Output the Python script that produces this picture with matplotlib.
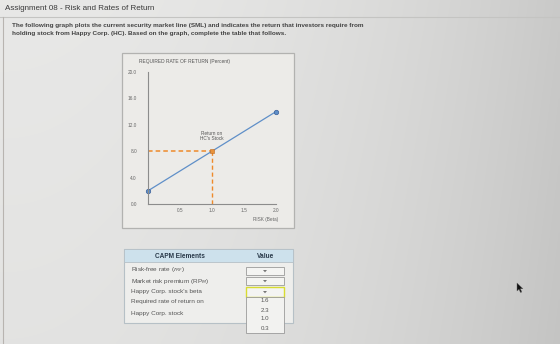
import numpy as np
import matplotlib
matplotlib.use("Agg")
import matplotlib.pyplot as plt
from matplotlib.patches import Rectangle, Polygon

# ---- data ----
sml_beta = [0.0, 2.0]
sml_return = [2.0, 14.0]
hc_beta = [1.0]
hc_return = [8.0]
y_ticks = [0.0, 4.0, 8.0, 12.0, 16.0, 20.0]
x_ticks = [0.5, 1.0, 1.5, 2.0]
table_rows = ["Risk-free rate ($r_{RF}$)", "Market risk premium (RP$_{M}$)",
              "Happy Corp. stock's beta", "Required rate of return on", "Happy Corp. stock"]
dropdown_options = ["1.6", "2.3", "1.0", "0.3"]

W, H = 560, 344
plt.rcParams['font.family'] = ['Liberation Sans', 'DejaVu Sans']
fig = plt.figure(figsize=(W / 100, H / 100), dpi=100)

def fx(x):
    return x / W

def fy(y):
    return 1 - y / H

# background with vignette
bg = fig.add_axes([0, 0, 1, 1], zorder=-10)
gx = np.linspace(0, 1, 200)
gy = np.linspace(0, 1, 120)
X, Y = np.meshgrid(gx, gy)
val = 0.91 - 0.12 * X ** 2.2 - 0.02 * Y
img = np.dstack([val, val, val * 0.995])
bg.imshow(img, extent=[0, W, H, 0], aspect='auto', interpolation='bilinear')
bg.set_xlim(0, W)
bg.set_ylim(H, 0)
bg.axis('off')
bg.plot([0, W], [17, 17], color='#c4c4c2', lw=0.8)
bg.plot([2.5, 2.5], [17, H], color='#b8b4b0', lw=0.8)

# page texts
fig.text(fx(5), fy(8), "Assignment 08 - Risk and Rates of Return", fontsize=5.8,
         color='#3a3a3a', va='center', ha='left')
fig.text(fx(12), fy(25), "The following graph plots the current security market line (SML) and indicates the return that investors require from",
         fontsize=4.6, color='#444444', va='center', ha='left', fontweight='bold')
fig.text(fx(12), fy(34), "holding stock from Happy Corp. (HC). Based on the graph, complete the table that follows.",
         fontsize=4.6, color='#444444', va='center', ha='left', fontweight='bold')

# chart box
bg.add_patch(Rectangle((122, 53), 172, 175, facecolor='#ecebe8', edgecolor='#b2b2b0', lw=0.9))

# chart axes
ax = fig.add_axes([fx(148), fy(204), (276 - 148) / W, (204 - 72) / H])
ax.patch.set_alpha(0)
ax.set_xlim(0, 2.0)
ax.set_ylim(0, 20)
for s in ['top', 'right']:
    ax.spines[s].set_visible(False)
for s in ['left', 'bottom']:
    ax.spines[s].set_color('#8c8c8c')
    ax.spines[s].set_linewidth(0.8)
ax.set_yticks(y_ticks)
ax.set_yticklabels([f"{v:.1f}" for v in y_ticks])
ax.set_xticks(x_ticks)
ax.set_xticklabels([f"{v:.1f}" for v in x_ticks])
ax.tick_params(length=0, labelsize=3.4, labelcolor='#666666')
ax.tick_params(axis='x', pad=3)
ax.tick_params(axis='y', pad=8)

ax.plot(hc_beta * 2, [0, hc_return[0]], ls=(0, (3, 2)), color='#ee8a2a', lw=1.0, clip_on=False)
ax.plot([0, hc_beta[0]], hc_return * 2, ls=(0, (3, 2)), color='#ee8a2a', lw=1.1, clip_on=False)
ax.plot(sml_beta, sml_return, color='#5f8fc8', lw=0.9, clip_on=False)
ax.plot(sml_beta, sml_return, 'o', color='#5f8fc8', mec='#3a5f99', mew=0.5, ms=3.2, clip_on=False)
ax.plot(hc_beta, hc_return, 's', color='#e8923a', mec='#c06a20', mew=0.4, ms=3.0, clip_on=False)
ax.text(hc_beta[0], hc_return[0] + 1.6, "Return on\nHC's Stock", fontsize=3.4, color='#555555',
        ha='center', va='bottom', linespacing=1.0)

fig.text(fx(139), fy(61), "REQUIRED RATE OF RETURN (Percent)", fontsize=3.5, color='#555555',
         ha='left', va='center')
fig.text(fx(278), fy(219), "RISK (Beta)", fontsize=3.4, color='#666666', ha='right', va='center')

# table
bg.add_patch(Rectangle((124, 249), 169, 74, facecolor='#eeeeec', edgecolor='#b6c0c6', lw=0.8))
bg.add_patch(Rectangle((124, 249), 169, 13, facecolor='#cde1ec', edgecolor='#b6c0c6', lw=0.6))
fig.text(fx(180), fy(256), "CAPM Elements", fontsize=4.7, color='#2a3a4a', fontweight='bold',
         ha='center', va='center')
fig.text(fx(266), fy(256), "Value", fontsize=4.7, color='#2a3a4a', fontweight='bold',
         ha='center', va='center')
row_y = [270, 281, 292, 302, 313]
for lbl, yy in zip(table_rows, row_y):
    fig.text(fx(131), fy(yy), lbl, fontsize=4.6, color='#555555', ha='left', va='center')

# dropdowns
for i, (y0, y1) in enumerate([(267, 275), (277, 285), (287, 297)]):
    ec = '#d8dc30' if i == 2 else '#9a9a9a'
    lw = 1.0 if i == 2 else 0.6
    bg.add_patch(Rectangle((246, y0), 38, y1 - y0, facecolor='#f4f4f2', edgecolor=ec, lw=lw))
    cx, cy = 265, (y0 + y1) / 2
    bg.add_patch(Polygon([[cx - 2, cy - 1], [cx + 2, cy - 1], [cx, cy + 1.3]], closed=True,
                         facecolor='#777777', edgecolor='none'))
bg.add_patch(Rectangle((246, 297), 38, 36, facecolor='#f2f2f0', edgecolor='#9a9a9a', lw=0.6))
for opt, yy in zip(dropdown_options, [301, 310, 319, 328]):
    fig.text(fx(265), fy(yy), opt, fontsize=4.4, color='#555555', ha='center', va='center')

# mouse cursor
cx0, cy0 = 517, 283
cur = [[0, 0], [0, 8], [2, 6.3], [3.5, 9.5], [4.8, 9], [3.4, 5.8], [6, 5.8]]
bg.add_patch(Polygon([[cx0 + a, cy0 + b] for a, b in cur], closed=True,
                     facecolor='#111111', edgecolor='#666666', lw=0.3))

fig.savefig("out.png", dpi=100)
